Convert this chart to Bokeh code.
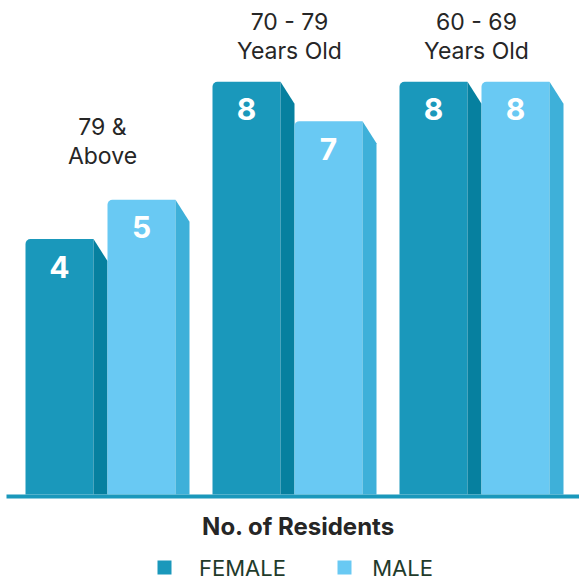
from bokeh.plotting import figure
from bokeh.models import Range1d
from bokeh.core.properties import value
from bokeh.embed import file_html
from bokeh.resources import INLINE

# Residents per age group
age_groups = ["79 &\nAbove", "70 - 79\nYears Old", "60 - 69\nYears Old"]
female = [4, 8, 8]
male = [5, 7, 8]
series_names = ["FEMALE", "MALE"]

FEMALE_FRONT = "#1a98bb"
FEMALE_SIDE = "#06809f"
MALE_FRONT = "#69c9f3"
MALE_SIDE = "#3eb0d9"
TEXT_DARK = "#262626"
LEGEND_TEXT = "#1f3b2b"
FONT = "Inter"

W = H = 579
PX_PER_UNIT = 39.3          # vertical scale, pixels per resident
FLOOR = -2.5                # value at which the bars stand
FLOOR_ROW = 494             # pixel row of the floor

Y_MIN = FLOOR - (H - FLOOR_ROW) / PX_PER_UNIT
Y_MAX = FLOOR + FLOOR_ROW / PX_PER_UNIT


def row_to_y(row):
    """Convert a pixel row (from the top) to a value on the y range."""
    return FLOOR - (row - FLOOR_ROW) / PX_PER_UNIT


# layout of the pseudo-3D bars (horizontal units are pixels)
FIRST_LEFT = 25
GROUP_PITCH = 187
FRONT_W = 68
SIDE_W = 14
SIDE_DROP = 22 / PX_PER_UNIT

p = figure(width=W, height=H, x_range=Range1d(0, W), y_range=Range1d(Y_MIN, Y_MAX),
           output_backend="svg", toolbar_location=None, min_border=0)
p.axis.visible = False
p.grid.visible = False
p.outline_line_color = None
p.background_fill_color = "white"
p.border_fill_color = "white"

series = [(female, FEMALE_FRONT, FEMALE_SIDE), (male, MALE_FRONT, MALE_SIDE)]
for s, (vals, front_col, side_col) in enumerate(series):
    lefts = [FIRST_LEFT + i * GROUP_PITCH + s * (FRONT_W + SIDE_W) for i in range(len(vals))]
    rights = [l + FRONT_W for l in lefts]
    # front faces
    p.quad(left=lefts, right=rights, top=vals, bottom=FLOOR,
           fill_color=front_col, line_color=None, border_radius=(5, 0, 0, 0))
    # side faces
    xs = [[r, r + SIDE_W, r + SIDE_W, r] for r in rights]
    ys = [[v, v - SIDE_DROP, FLOOR, FLOOR] for v in vals]
    p.patches(xs, ys, fill_color=side_col, line_color=None)
    # value labels
    p.text(x=[l + FRONT_W / 2 for l in lefts], y=vals, text=[str(v) for v in vals],
           y_offset=27.5, text_align="center", text_baseline="middle",
           text_color="white", text_font=value(FONT), text_font_style="bold",
           text_font_size="30px")

# floor line
p.segment(x0=6, x1=W, y0=FLOOR - 2 / PX_PER_UNIT, y1=FLOOR - 2 / PX_PER_UNIT,
          line_color=FEMALE_FRONT, line_width=4)

# age group labels above each pair, kept below the top edge
label_ceiling = row_to_y(65)
tops = [max(f, m) for f, m in zip(female, male)]
label_y = [min(t + 30 / PX_PER_UNIT, label_ceiling) for t in tops]
p.text(x=[FIRST_LEFT + i * GROUP_PITCH + 77 for i in range(len(age_groups))], y=label_y,
       text=age_groups, text_align="center", text_baseline="bottom",
       text_line_height=1.04, text_color=TEXT_DARK, text_font=value(FONT),
       text_font_size="23px")

# axis caption
p.text(x=[298], y=[row_to_y(526)], text=["No. of Residents"], text_align="center",
       text_baseline="middle", text_color=TEXT_DARK, text_font=value(FONT),
       text_font_style="bold", text_font_size="24px")

# legend
legend_row = 567
for (sq_left, label_x), name, col in zip([(157, 242), (337, 402)], series_names,
                                         [FEMALE_FRONT, MALE_FRONT]):
    p.quad(left=[sq_left], right=[sq_left + 14], top=[row_to_y(560)], bottom=[row_to_y(574)],
           fill_color=col, line_color=None)
    p.text(x=[label_x], y=[row_to_y(legend_row)], text=[name], text_align="center",
           text_baseline="middle", text_color=LEGEND_TEXT, text_font=value(FONT),
           text_font_size="22px")

open("out.html", "w").write(file_html(p, INLINE))
